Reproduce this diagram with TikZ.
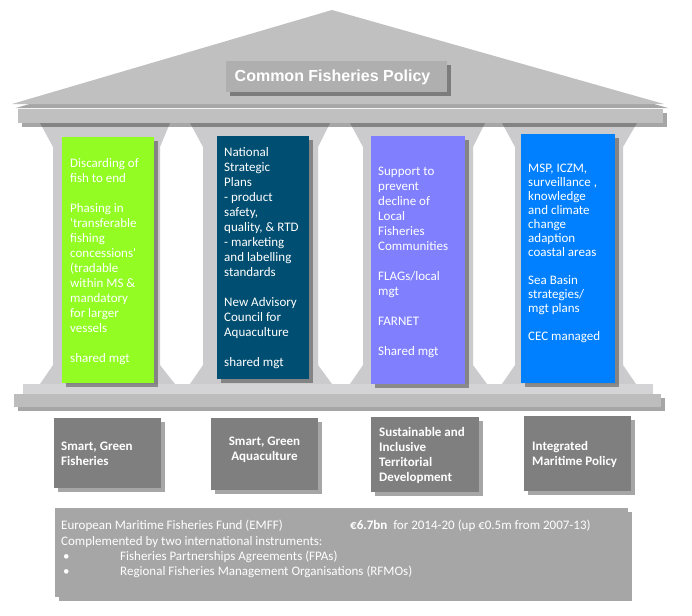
\documentclass[tikz,border=0pt]{standalone}
\usepackage{fontspec}
\setmainfont{Carlito}[Ligatures=TeXOff]
\newfontfamily\titlefont{Liberation Sans}
\usetikzlibrary{shadows}
\definecolor{roofc}{HTML}{C0C0C0}
\definecolor{pillarc}{HTML}{CBCBCD}
\definecolor{stepup}{HTML}{D4D4D6}
\definecolor{steplow}{HTML}{BDBDBD}
\definecolor{titlec}{HTML}{AFAFAF}
\definecolor{cgreen}{HTML}{93FC22}
\definecolor{cteal}{HTML}{004E71}
\definecolor{cviolet}{HTML}{8080FF}
\definecolor{cblue}{HTML}{0080FF}
\definecolor{boxc}{HTML}{7F7F7F}
\definecolor{fundc}{HTML}{A6A6A6}
\tikzset{
  shad/.style={drop shadow={shadow xshift=4pt, shadow yshift=-4pt, fill=black, opacity=0.35}},
  panelbox/.style={anchor=north west, inner sep=0pt, shad},
  paneltext/.style={anchor=north west, inner sep=0pt, align=left, text=white, font={\fontsize{13}{15}\selectfont}},
  pillartext/.style={anchor=north west, inner sep=0pt, text=white, font={\fontsize{13}{15}\selectfont\bfseries}},
}
\begin{document}
\begin{tikzpicture}[x=1pt,y=-1pt]
\useasboundingbox (0,0) rectangle (692,615);
% pillars
\foreach \a/\b/\c/\d/\e/\f in {40/53/160/170/40/175, 190/203/318/330/190/332, 350/363/473/485/350/487, 502/515/623/637/502/636}{
  \fill[pillarc] (\a,123) -- (\d,123) -- (\c,147) -- (\c,365) -- (\f,384) -- (\e,384) -- (\b,365) -- (\b,147) -- cycle;
}
% base steps
\fill[stepup] (23,384) rectangle (653,394);
\fill[steplow, shad] (14,394) rectangle (661,407);
% roof and entablature
\fill[roofc, shad] (12,104) -- (332,10) -- (664,104) -- cycle;
\fill[roofc, shad] (18,109) rectangle (663,123);
% title
\node[anchor=north west, inner sep=0pt, minimum width=221pt, minimum height=31pt, fill=titlec, shad] (title) at (226,61) {};
\node[anchor=base, inner sep=0pt, text=white, font={\titlefont\bfseries\fontsize{16}{18}\selectfont}] (titletext) at (332.5,82) {Common Fisheries Policy};
% panels
\node[panelbox, fill=cgreen, minimum width=92pt, minimum height=246pt] (p1) at (62,137) {};
\node[panelbox, fill=cteal, minimum width=92pt, minimum height=243pt] (p2) at (217,136) {};
\node[panelbox, fill=cviolet, minimum width=94pt, minimum height=248pt] (p3) at (371,136) {};
\node[panelbox, fill=cblue, minimum width=94pt, minimum height=249pt] (p4) at (521,134) {};
\node[paneltext] (t1) at (70,156.5) {\rule{0pt}{11pt}Discarding of\\fish to end\\[15pt]Phasing in\\'transferable\\fishing\\concessions'\\(tradable\\within MS \&\\mandatory\\for larger\\vessels\\[15pt]shared mgt};
\node[paneltext] (t2) at (224,145.5) {\rule{0pt}{11pt}National\\Strategic\\Plans\\- product\\safety,\\quality, \& RTD\\- marketing\\and labelling\\standards\\[15pt]New Advisory\\Council for\\Aquaculture\\[15pt]shared mgt};
\node[paneltext] (t3) at (378,164.5) {\rule{0pt}{11pt}Support to\\prevent\\decline of\\Local\\Fisheries\\Communities\\[15pt]FLAGs/local\\mgt\\[15pt]FARNET\\[15pt]Shared mgt};
\node[paneltext, font={\fontsize{13}{14}\selectfont}] (t4) at (528,161.5) {\rule{0pt}{11pt}MSP, ICZM,\\surveillance ,\\knowledge\\and climate\\change\\adaption\\coastal areas\\[14pt]Sea Basin\\strategies/\\mgt plans\\[14pt]CEC managed};
% bottom boxes
\node[panelbox, fill=boxc, minimum width=107pt, minimum height=70pt] (b1) at (54,418) {};
\node[panelbox, fill=boxc, minimum width=107pt, minimum height=72pt] (b2) at (211,418) {};
\node[panelbox, fill=boxc, minimum width=108pt, minimum height=75pt] (b3) at (371,417) {};
\node[panelbox, fill=boxc, minimum width=107pt, minimum height=75pt] (b4) at (524,416) {};
\node[pillartext, align=left] (bt1) at (61,439.5) {\rule{0pt}{11pt}Smart, Green\\Fisheries};
\node[pillartext, align=center, anchor=north] (bt2) at (264.5,434.5) {\rule{0pt}{11pt}Smart, Green\\Aquaculture};
\node[pillartext, align=left] (bt3) at (379,425.5) {\rule{0pt}{11pt}Sustainable and\\Inclusive\\Territorial\\Development};
\node[pillartext, align=left] (bt4) at (532,439.5) {\rule{0pt}{11pt}Integrated\\Maritime Policy};
% fund box
\node[panelbox, fill=fundc, minimum width=573pt, minimum height=89pt] (fund) at (55,508) {};
\node[anchor=north west, inner sep=0pt, align=left, text=white, font={\fontsize{13}{15.3}\selectfont}] (fundtext) at (61,518.5) {\rule{0pt}{11pt}\makebox[289pt][l]{European Maritime Fisheries Fund (EMFF)}\textbf{€6.7bn}\ \ for 2014-20 (up €0.5m from 2007-13)\\Complemented by two international instruments:\\\makebox[59pt][l]{\hspace{2pt}\textbullet}Fisheries Partnerships Agreements (FPAs)\\\makebox[59pt][l]{\hspace{2pt}\textbullet}Regional Fisheries Management Organisations (RFMOs)};
\end{tikzpicture}
\end{document}
